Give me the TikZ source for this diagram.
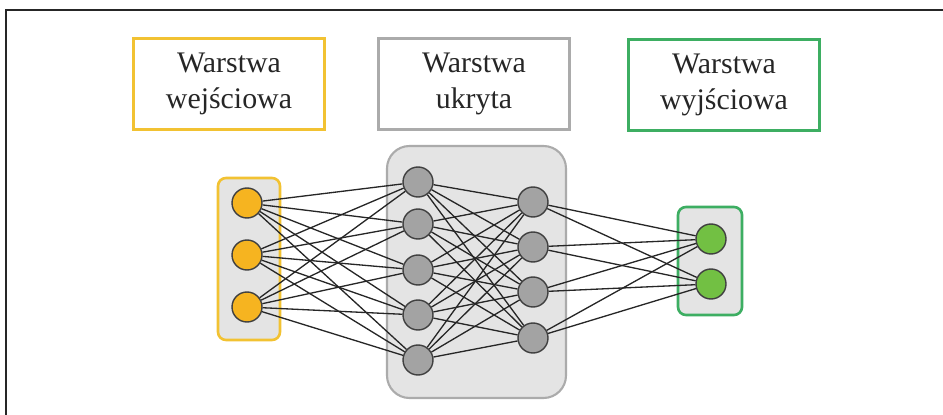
\documentclass[tikz,border=0pt]{standalone}
\usepackage{fontspec}
\setmainfont{Liberation Serif}
\usepackage{xcolor}

\definecolor{zolty}{HTML}{F2C232}
\definecolor{zoltywez}{HTML}{F6B420}
\definecolor{szary}{HTML}{ABABAB}
\definecolor{szarywez}{HTML}{A3A3A3}
\definecolor{zielony}{HTML}{3DAE62}
\definecolor{zielonywez}{HTML}{72C043}
\definecolor{tlo}{HTML}{E4E4E4}

\tikzset{
  etykieta/.style={draw, line width=1.5pt, fill=white, minimum width=3.82cm, minimum height=1.82cm, align=center, text=black!85, font=\fontsize{17}{20.5}\selectfont},
  neuron/.style={circle, draw=black!75, line width=0.8pt, minimum size=0.6cm, inner sep=0pt},
  polaczenie/.style={draw=black!85, line width=0.75pt}
}

\begin{document}
\begin{tikzpicture}[x=0.02cm,y=-0.02cm]
  \useasboundingbox (0,0) rectangle (943,415);
  \draw[line width=1.6pt, black!85] (943,10) -- (6,10) -- (6,415);
  % etykiety warstw
  \node[etykieta, draw=zolty] (lwe) at (229,84) {Warstwa\\wejściowa};
  \node[etykieta, draw=szary] (lhid) at (474,84) {Warstwa\\ukryta};
  \node[etykieta, draw=zielony] (lwy) at (724,85) {Warstwa\\wyjściowa};
  % tla warstw
  \draw[draw=zolty, fill=tlo, line width=1.5pt, rounded corners=0.16cm] (218,178) rectangle (280,340);
  \draw[draw=szary, fill=tlo, line width=1.2pt, rounded corners=0.45cm] (387,146) rectangle (566,398);
  \draw[draw=zielony, fill=tlo, line width=1.5pt, rounded corners=0.16cm] (678,207) rectangle (742,315);
  % neurony
  \foreach \y [count=\i] in {203,255,307} \node[neuron, fill=zoltywez] (we\i) at (247,\y) {};
  \foreach \y [count=\i] in {182,224,270,315,360} \node[neuron, fill=szarywez] (ha\i) at (418,\y) {};
  \foreach \y [count=\i] in {202,247,292,338} \node[neuron, fill=szarywez] (hb\i) at (533,\y) {};
  \foreach \y [count=\i] in {239,284} \node[neuron, fill=zielonywez] (wy\i) at (711,\y) {};
  % polaczenia
  \foreach \i in {1,...,3} \foreach \j in {1,...,5} \draw[polaczenie] (we\i) -- (ha\j);
  \foreach \i in {1,...,5} \foreach \j in {1,...,4} \draw[polaczenie] (ha\i) -- (hb\j);
  \foreach \i in {1,...,4} \foreach \j in {1,2} \draw[polaczenie] (hb\i) -- (wy\j);
\end{tikzpicture}
\end{document}
